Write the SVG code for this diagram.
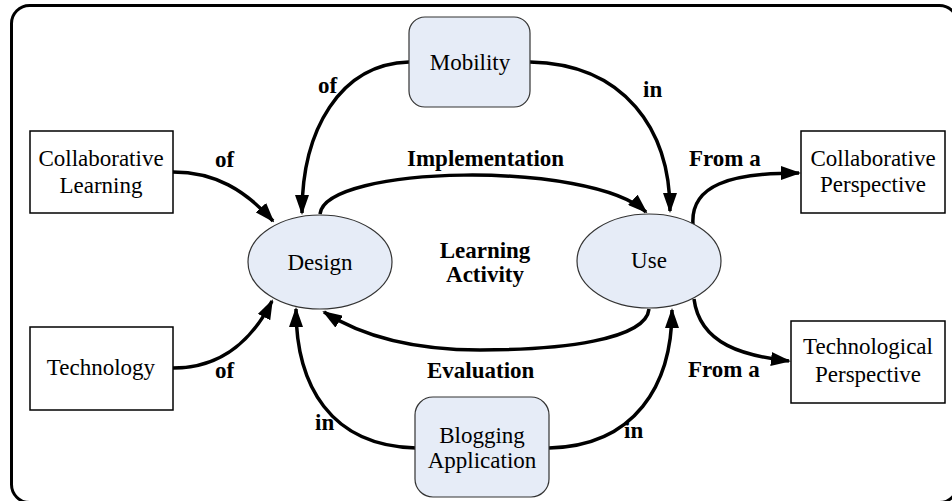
<svg xmlns="http://www.w3.org/2000/svg" width="952" height="501" viewBox="0 0 952 501">
<style>
.frame{fill:#ffffff;stroke:#000;stroke-width:3}
.box{fill:#ffffff;stroke:#000;stroke-width:1.5}
.soft{fill:#E6ECF7;stroke:#333;stroke-width:1.2}
.t{font-family:"Liberation Serif","Times New Roman",serif;font-size:23px;fill:#000;text-anchor:middle}
.lb{font-family:"Liberation Serif","Times New Roman",serif;font-size:23px;font-weight:bold;fill:#000}
.c{fill:none;stroke:#000;stroke-width:3.5;marker-end:url(#ah)}
</style>
<defs>
<marker id="ah" markerUnits="userSpaceOnUse" markerWidth="20" markerHeight="14" refX="18" refY="7" orient="auto">
<path d="M0,0 L20,7 L0,14 z" fill="#000"/>
</marker>
</defs>
<rect class="frame" x="11.5" y="5.5" width="946" height="497" rx="18"/>

<g id="connectors">
<path class="c" d="M409,62 C340,64 302,130 302,213"/>
<path class="c" d="M173,172 C215,172 245,190 273,221"/>
<path class="c" d="M320,214 C325,165 590,160 646,212"/>
<path class="c" d="M530,62 C625,64 670,130 670,211"/>
<path class="c" d="M693,225 C690,185 730,173 799,173"/>
<path class="c" d="M694,299 C700,345 745,356 789,361"/>
<path class="c" d="M649,309 C646,340 560,350 480,350 C410,350 360,335 324,312"/>
<path class="c" d="M416,448 C330,446 296,385 296,309"/>
<path class="c" d="M549,448 C635,446 672,385 672,310"/>
<path class="c" d="M173,368 C225,368 255,335 272,301"/>
</g>

<g id="labels">
<text class="lb" x="318" y="93">of</text>
<text class="lb" x="215" y="167">of</text>
<text class="lb" x="407" y="166">Implementation</text>
<text class="lb" x="643" y="97">in</text>
<text class="lb" x="689" y="166">From a</text>
<text class="lb" x="485" y="258" text-anchor="middle">Learning</text>
<text class="lb" x="485" y="282" text-anchor="middle">Activity</text>
<text class="lb" x="215" y="378">of</text>
<text class="lb" x="315" y="430">in</text>
<text class="lb" x="427" y="378">Evaluation</text>
<text class="lb" x="624" y="438">in</text>
<text class="lb" x="688" y="377">From a</text>
</g>

<g id="mobility">
<rect class="soft" x="409" y="17" width="121" height="90" rx="16"/>
<text class="t" x="470" y="70">Mobility</text>
</g>
<g id="collaborative-learning">
<rect class="box" x="30" y="131" width="143" height="82"/>
<text class="t" x="101" y="166">Collaborative</text>
<text class="t" x="101" y="193">Learning</text>
</g>
<g id="technology">
<rect class="box" x="30" y="327" width="143" height="83"/>
<text class="t" x="101" y="375">Technology</text>
</g>
<g id="design">
<ellipse class="soft" cx="320" cy="262" rx="72" ry="47"/>
<text class="t" x="320" y="270">Design</text>
</g>
<g id="use">
<ellipse class="soft" cx="649" cy="261" rx="72" ry="47"/>
<text class="t" x="649" y="268">Use</text>
</g>
<g id="blogging-application">
<rect class="soft" x="415" y="397" width="134" height="100" rx="18"/>
<text class="t" x="482" y="443">Blogging</text>
<text class="t" x="482" y="468">Application</text>
</g>
<g id="collaborative-perspective">
<rect class="box" x="801" y="131" width="144" height="82"/>
<text class="t" x="873" y="166">Collaborative</text>
<text class="t" x="873" y="192">Perspective</text>
</g>
<g id="technological-perspective">
<rect class="box" x="791" y="321" width="154" height="82"/>
<text class="t" x="868" y="354">Technological</text>
<text class="t" x="868" y="382">Perspective</text>
</g>
</svg>
